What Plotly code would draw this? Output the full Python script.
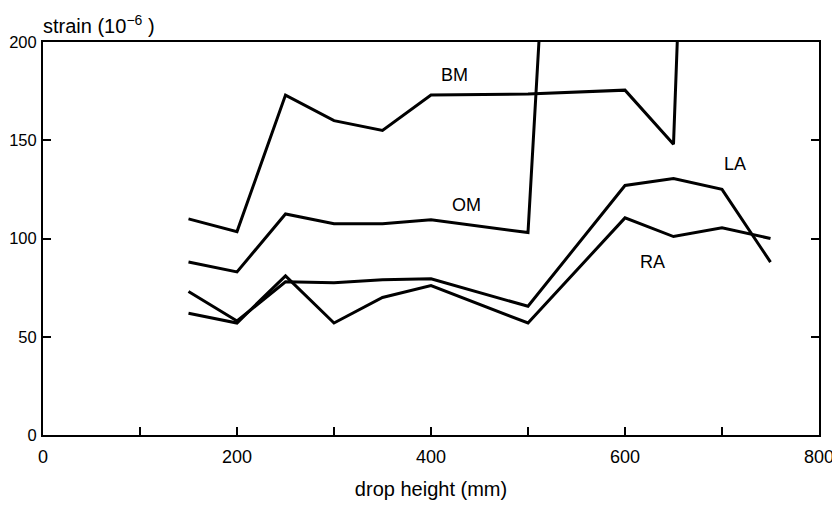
import plotly.graph_objects as go

# Data
bm_x = [150, 200, 250, 300, 350, 400, 500, 600, 650, 655]
bm_y = [110, 103.5, 173, 160, 155, 173, 173.5, 175.5, 148, 215]

om_x = [150, 200, 250, 300, 350, 400, 500, 513]
om_y = [88, 83, 112.5, 107.5, 107.5, 109.5, 103, 215]

la_x = [150, 200, 250, 300, 350, 400, 500, 600, 650, 700, 750]
la_y = [73, 58, 78, 77.5, 79, 79.5, 65.5, 127, 130.5, 125, 88]

ra_x = [150, 200, 250, 300, 350, 400, 500, 600, 650, 700, 750]
ra_y = [62, 57, 81, 57, 70, 76, 57, 110.5, 101, 105.5, 100]

labels = ["BM", "OM", "LA", "RA"]
label_x = [424, 437, 713, 628]
label_y = [183, 117, 138, 88]

x_ticks = [0, 200, 400, 600, 800]
y_ticks = [0, 50, 100, 150, 200]

FONT = "Liberation Sans, Arial, sans-serif"
fig = go.Figure()
for xs, ys in [(bm_x, bm_y), (om_x, om_y), (la_x, la_y), (ra_x, ra_y)]:
    fig.add_trace(go.Scatter(x=xs, y=ys, mode="lines",
                             line=dict(color="black", width=3),
                             showlegend=False, hoverinfo="skip"))

for t, lx, ly in zip(labels, label_x, label_y):
    fig.add_annotation(x=lx, y=ly, text=t, showarrow=False,
                       font=dict(size=18, color="black", family=FONT))

fig.add_annotation(xref="paper", yref="paper", x=-0.003, y=1.0, yshift=18,
                   xanchor="left", yanchor="middle", showarrow=False,
                   text="strain (10<sup>−6</sup> )",
                   font=dict(size=20, color="black", family=FONT))

# page body adds an 8px margin, so the figure is 8px smaller than the window
fig.update_layout(
    width=832, height=498,
    margin=dict(l=35, r=21, t=34, b=71, autoexpand=False),
    paper_bgcolor="white", plot_bgcolor="white",
    font=dict(family=FONT, size=18, color="black"),
    xaxis=dict(range=[0, 800], tickvals=x_ticks, ticks="inside", ticklen=8,
               tickwidth=1.5, tickcolor="black", automargin=False,
               minor=dict(dtick=100, ticks="inside", ticklen=8, tickwidth=1.5, tickcolor="black"),
               showline=True, linecolor="black", linewidth=2, mirror=True,
               showgrid=False, zeroline=False,
               title=dict(text="drop height (mm)", standoff=16,
                          font=dict(size=20, family=FONT)),
               ticklabelstandoff=4),
    yaxis=dict(range=[0, 200], tickvals=y_ticks, ticks="inside", ticklen=8,
               tickwidth=1.5, tickcolor="black", automargin=False,
               tickfont=dict(size=16.5),
               showline=True, linecolor="black", linewidth=2, mirror="ticks",
               showgrid=False, zeroline=False, ticklabelstandoff=1),
)

fig.write_html("out.html")
